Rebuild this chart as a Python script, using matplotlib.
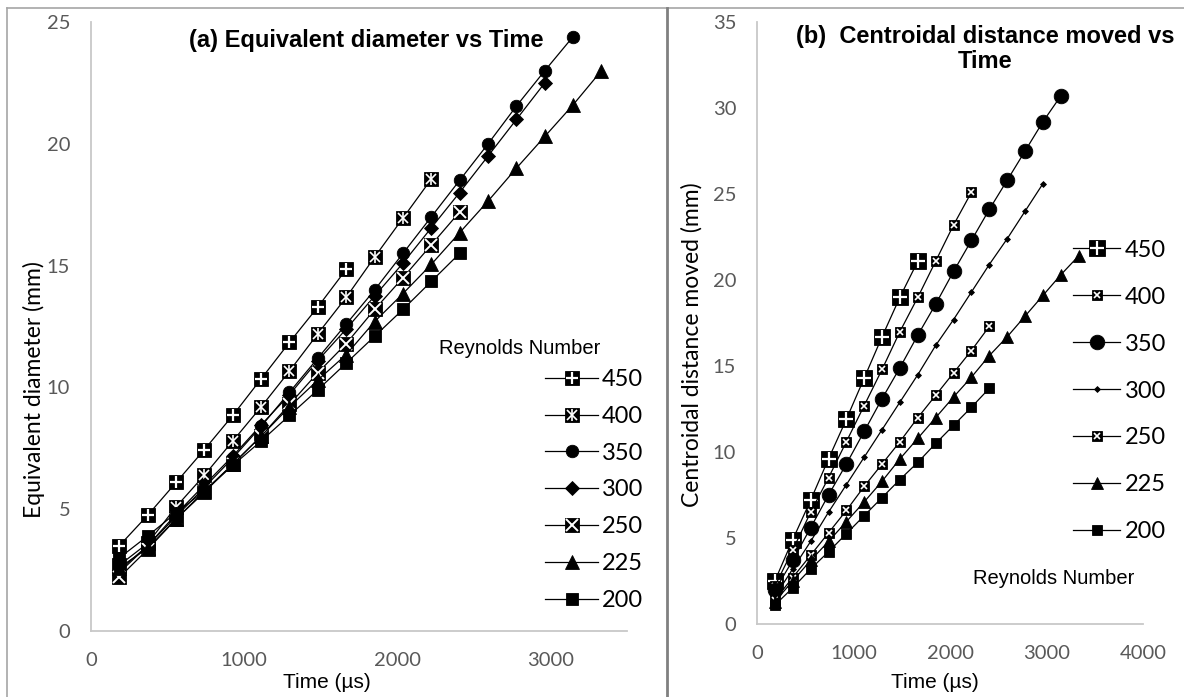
import matplotlib.pyplot as plt
from matplotlib.lines import Line2D
from matplotlib.legend_handler import HandlerTuple
from matplotlib.ticker import MultipleLocator

# ---- data ----
time_us = [185, 370, 556, 741, 926, 1111, 1296, 1481, 1667, 1852,
           2037, 2222, 2407, 2593, 2778, 2963, 3148, 3333]
reynolds = ['450', '400', '350', '300', '250', '225', '200']

# (a) equivalent diameter, mm
eqd_450 = [3.5, 4.75, 6.1, 7.45, 8.85, 10.35, 11.85, 13.3, 14.85]
eqd_400 = [2.7, 3.6, 5.1, 6.4, 7.8, 9.2, 10.67, 12.2, 13.7, 15.35, 16.95, 18.55]
eqd_350 = [2.5, 3.5, 4.7, 5.9, 7.1, 8.4, 9.8, 11.2, 12.6, 14.0, 15.5, 17.0,
           18.5, 20.0, 21.55, 23.0, 24.4]
eqd_300 = [2.4, 3.5, 4.8, 6.0, 7.18, 8.46, 9.7, 11.1, 12.4, 13.75, 15.1, 16.55,
           18.0, 19.5, 21.0, 22.5]
eqd_250 = [2.2, 3.35, 4.6, 5.75, 6.85, 8.0, 9.3, 10.6, 11.8, 13.2, 14.5, 15.85, 17.2]
eqd_225 = [2.6, 3.4, 4.6, 5.7, 6.85, 8.0, 9.2, 10.3, 11.35, 12.7, 13.85, 15.05,
           16.35, 17.65, 19.0, 20.3, 21.6, 23.0]
eqd_200 = [3.0, 3.9, 4.85, 5.75, 6.8, 7.8, 8.85, 9.9, 11.0, 12.1, 13.2, 14.35, 15.5]

# (b) centroidal distance moved, mm
cdm_450 = [2.5, 4.9, 7.2, 9.6, 11.9, 14.3, 16.7, 19.0, 21.1]
cdm_400 = [2.2, 4.3, 6.5, 8.5, 10.6, 12.7, 14.8, 17.0, 19.0, 21.1, 23.2, 25.1]
cdm_350 = [1.95, 3.7, 5.6, 7.5, 9.3, 11.2, 13.1, 14.9, 16.8, 18.6, 20.5, 22.3,
           24.1, 25.8, 27.5, 29.2, 30.7]
cdm_300 = [1.6, 3.2, 4.8, 6.5, 8.1, 9.7, 11.3, 12.9, 14.5, 16.2, 17.7, 19.3,
           20.9, 22.4, 24.0, 25.6]
cdm_250 = [1.4, 2.7, 4.0, 5.3, 6.6, 8.0, 9.3, 10.6, 12.0, 13.3, 14.6, 15.9, 17.3]
cdm_225 = [1.3, 2.5, 3.7, 4.8, 5.95, 7.1, 8.3, 9.6, 10.8, 12.0, 13.2, 14.35,
           15.6, 16.7, 17.9, 19.1, 20.3, 21.4]
cdm_200 = [1.1, 2.1, 3.2, 4.2, 5.25, 6.3, 7.35, 8.4, 9.4, 10.5, 11.55, 12.6, 13.7]

eqd_series = [eqd_450, eqd_400, eqd_350, eqd_300, eqd_250, eqd_225, eqd_200]
cdm_series = [cdm_450, cdm_400, cdm_350, cdm_300, cdm_250, cdm_225, cdm_200]

# marker styles: (base marker, size, [(overlay marker, size, width), ...])
style_a = [('s', 10, [('+', 8, 1.6)]),
           ('s', 10, [('x', 6.5, 1.2), ('|', 8, 1.2)]),
           ('o', 9, []),
           ('D', 7.5, []),
           ('s', 10, [('x', 8, 1.4)]),
           ('^', 9.5, []),
           ('s', 9, [])]
style_b = [('s', 11.5, [('+', 9.5, 1.6)]),
           ('s', 6.5, [('x', 4.5, 1.2)]),
           ('o', 10.5, []),
           ('D', 3, []),
           ('s', 6.5, [('x', 4.5, 1.2)]),
           ('^', 9, []),
           ('s', 7.5, [])]

W, H = 1184, 697
grey_txt = '#595959'
lato = ['Lato', 'DejaVu Sans']
arial = ['Liberation Sans', 'DejaVu Sans']

fig = plt.figure(figsize=(W / 100, H / 100), dpi=100)

def px(x, y):
    return x / W, 1 - y / H

ax_a = fig.add_axes([91 / W, 1 - 631 / H, (627 - 91) / W, (631 - 22) / H])
ax_b = fig.add_axes([757 / W, 1 - 624 / H, (1143 - 757) / W, (624 - 22) / H])


def draw_series(ax, series, styles):
    handles = []
    for ys, (mk, ms, overlays) in zip(series, styles):
        xs = time_us[:len(ys)]
        base, = ax.plot(xs, ys, color='black', lw=0.9, marker=mk, ms=ms,
                        mfc='black', mec='black', mew=0.6)
        parts = [base]
        for om, oms, omw in overlays:
            ov, = ax.plot(xs, ys, ls='none', marker=om, ms=oms,
                          mec='white', mew=omw)
            parts.append(ov)
        handles.append(tuple(parts))
    return handles


h_a = draw_series(ax_a, eqd_series, style_a)
h_b = draw_series(ax_b, cdm_series, style_b)

for ax, ymax, xmax in [(ax_a, 25, 3500), (ax_b, 35, 4000)]:
    ax.set_xlim(0, xmax)
    ax.set_ylim(0, ymax)
    ax.xaxis.set_major_locator(MultipleLocator(1000))
    ax.yaxis.set_major_locator(MultipleLocator(5))
    for s in ['top', 'right']:
        ax.spines[s].set_visible(False)
    for s in ['left', 'bottom']:
        ax.spines[s].set_color('#c8c8c8')
        ax.spines[s].set_linewidth(1.3)
    ax.tick_params(length=0, pad=15, labelsize=14.5, labelcolor=grey_txt)
    for lab in ax.get_xticklabels() + ax.get_yticklabels():
        lab.set_family(lato)

# axis titles and chart titles
fig.text(*px(34, 390), 'Equivalent diameter (mm)', rotation=90, ha='center',
         va='center', fontsize=16.5, family=lato)
fig.text(*px(692, 345), 'Centroidal distance moved (mm)', rotation=90,
         ha='center', va='center', fontsize=16.5, family=lato)
fig.text(*px(327, 682), 'Time (µs)', ha='center', va='center', fontsize=15,
         family=arial)
fig.text(*px(935, 682), 'Time (µs)', ha='center', va='center', fontsize=15,
         family=arial)
fig.text(*px(366, 40), '(a) Equivalent diameter vs Time', ha='center',
         va='center', fontsize=17, fontweight='bold', family=arial)
fig.text(*px(985, 49), '(b)  Centroidal distance moved vs\nTime', ha='center',
         va='center', fontsize=17, fontweight='bold', family=arial,
         multialignment='center', linespacing=1.1)
fig.text(*px(520, 348), 'Reynolds Number', ha='center', va='center',
         fontsize=14.5, family=arial)
fig.text(*px(1054, 578), 'Reynolds Number', ha='center', va='center',
         fontsize=14.5, family=arial)

# legends
leg_a = fig.legend(h_a, reynolds, loc='center left', bbox_to_anchor=px(545, 490),
                   frameon=False, borderpad=0, borderaxespad=0,
                   handlelength=2.25, handletextpad=0.15, labelspacing=0.67,
                   handler_map={tuple: HandlerTuple(ndivide=1)},
                   prop={'family': lato, 'size': 17})
leg_b = fig.legend(h_b, reynolds, loc='center left', bbox_to_anchor=px(1073, 391),
                   frameon=False, borderpad=0, borderaxespad=0,
                   handlelength=2.0, handletextpad=0.2, labelspacing=1.1,
                   handler_map={tuple: HandlerTuple(ndivide=1)},
                   prop={'family': lato, 'size': 17})

# outer frame lines
fig.add_artist(Line2D([7 / W, 1], [1 - 8 / H, 1 - 8 / H], color='#a6a6a6', lw=1.2))
fig.add_artist(Line2D([7 / W, 7 / W], [0, 1 - 8 / H], color='#a6a6a6', lw=1.2))
fig.add_artist(Line2D([667 / W, 667 / W], [0, 1 - 8 / H], color='#808080', lw=2))

fig.savefig('out.png', dpi=100)
